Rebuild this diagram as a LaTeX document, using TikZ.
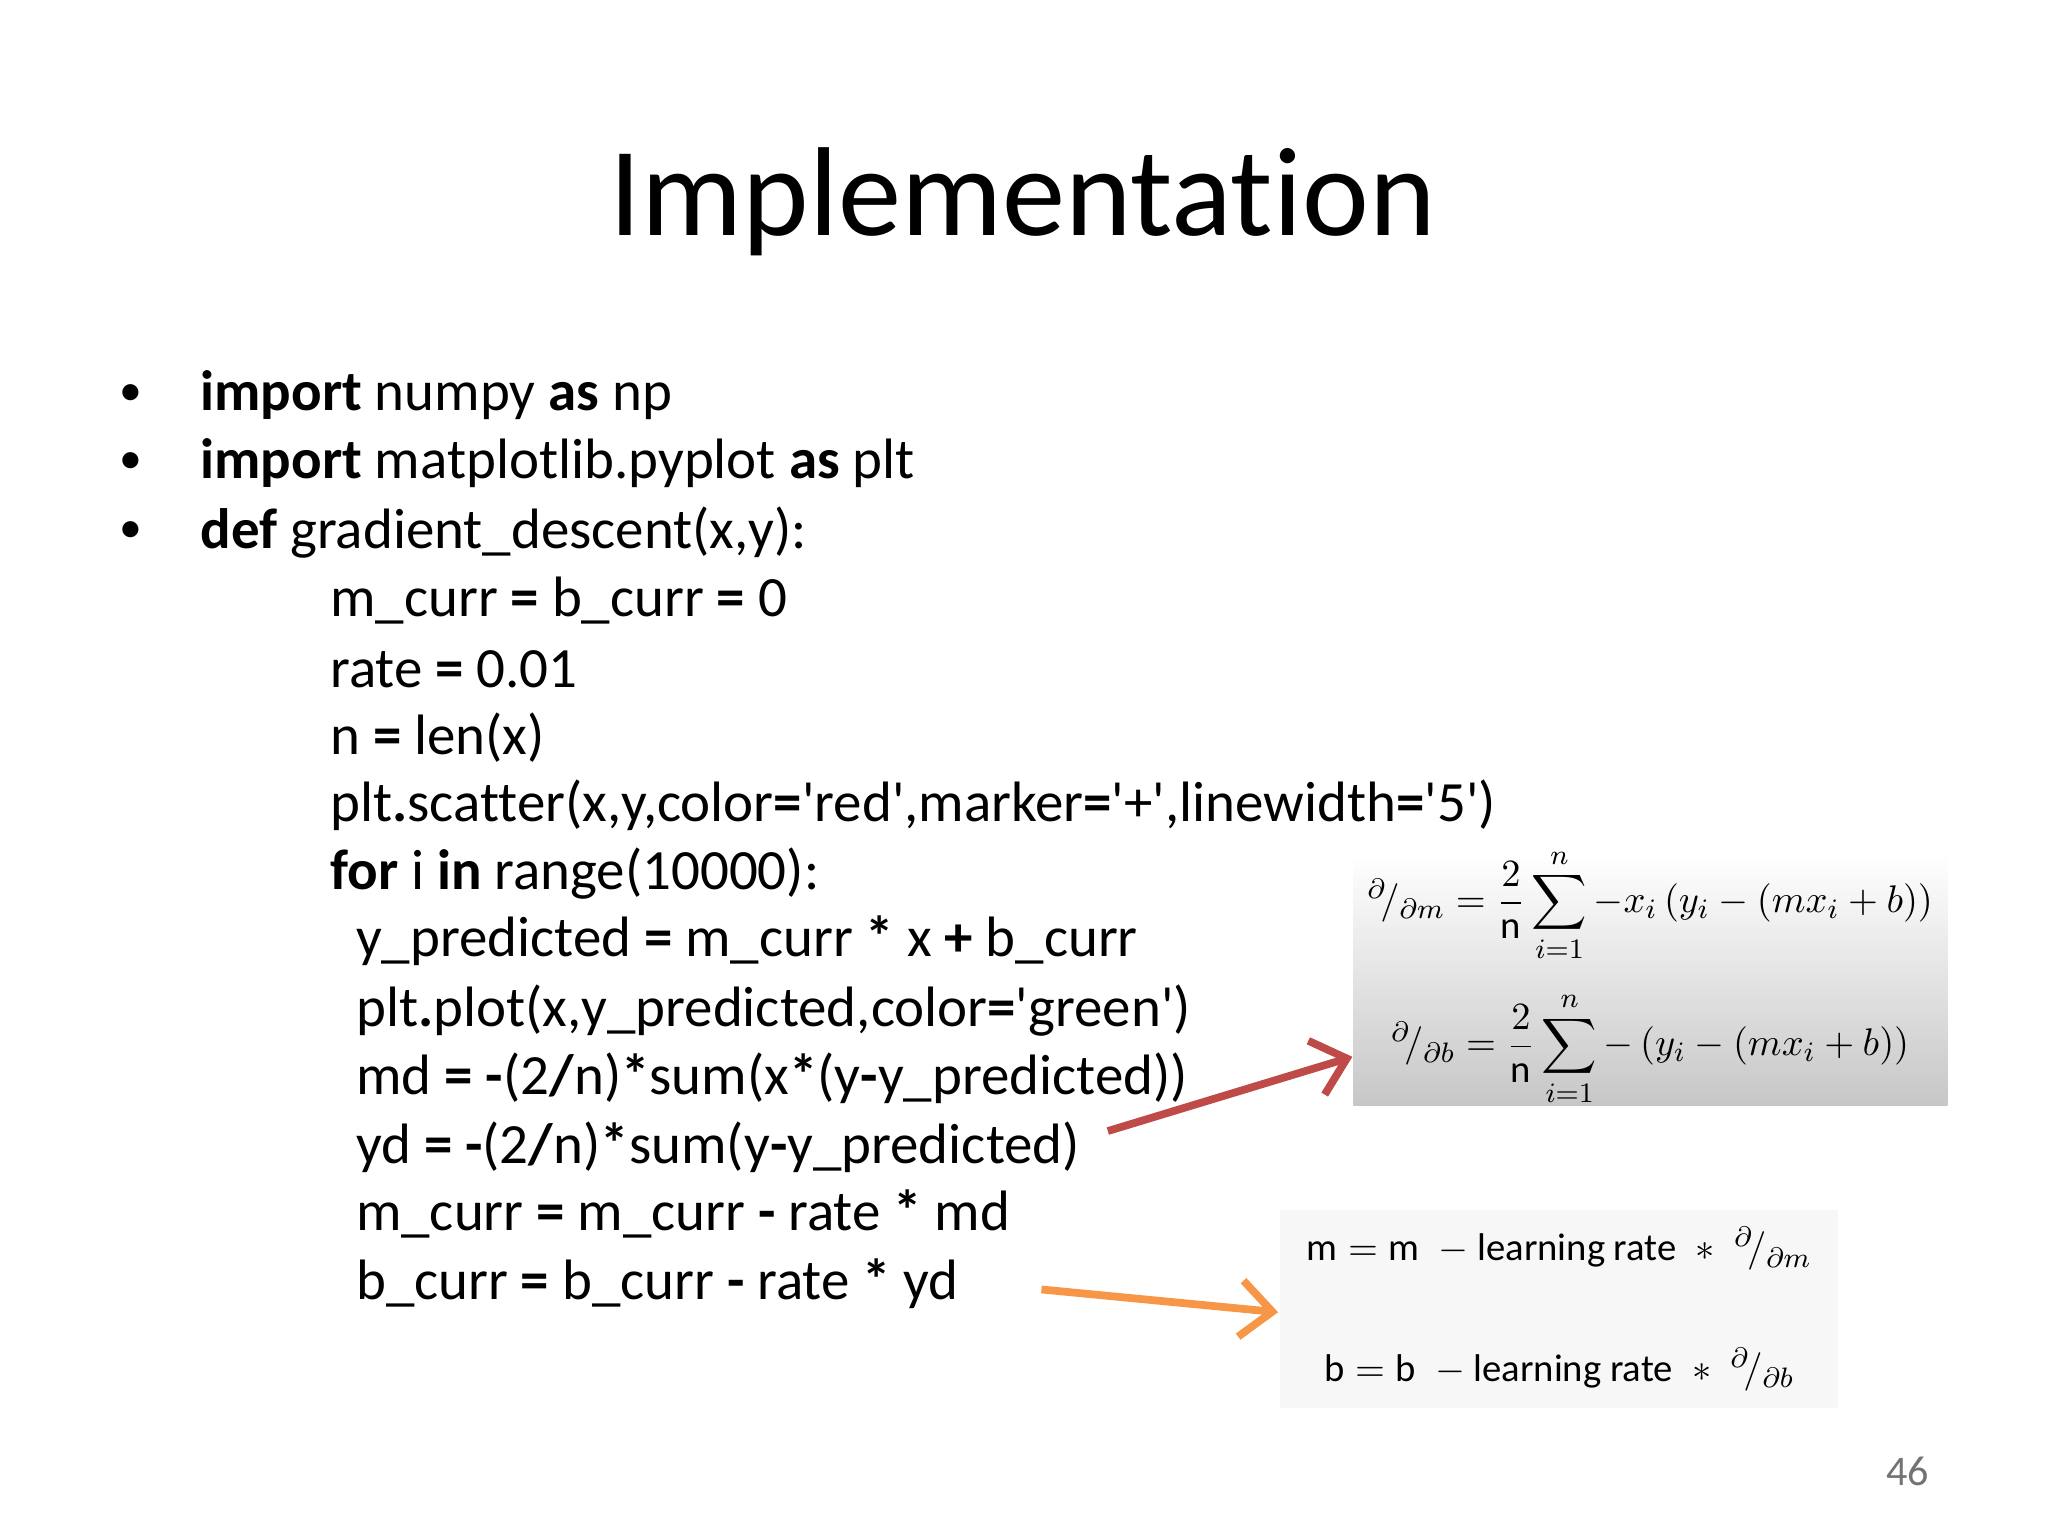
\documentclass[tikz,border=0pt]{standalone}
\usepackage{fontspec}
\setmainfont{Carlito}[Ligatures=NoCommon]
\usepackage{amsmath}
\usetikzlibrary{arrows.meta}
\newcommand{\qq}{\textquotesingle}
\begin{document}
\begin{tikzpicture}[x=1cm,y=1cm,
  code/.style={anchor=west,inner sep=0pt,font=\fontsize{16.2}{20}\selectfont},
  bul/.style={anchor=center,inner sep=0pt,font=\fontsize{13}{16}\selectfont},
  frm/.style={inner sep=0pt,font=\fontsize{11}{13}\selectfont},
  arr/.style={line width=2.2pt,-{Straight Barb[length=9pt,width=16pt]}}]
\useasboundingbox (0,0) rectangle (20.48,15.36);
\fill[white] (0,0) rectangle (20.48,15.36);
\begin{scope}[scale=0.99]
\node[inner sep=0pt,font=\fontsize{36}{44}\selectfont] (title) at (10.33,13.48) {Implementation};
\begin{scope}[yshift=0.12cm]
\foreach \y/\n in {3.96/b1,4.64/b2,5.34/b3}{\node[bul] (\n) at (1.32,15.36-\y) {•};}
\node[code] (l1) at (2.02,15.36-3.96) {\textbf{import} numpy \textbf{as} np};
\node[code] (l2) at (2.02,15.36-4.64) {\textbf{import} matplotlib.pyplot \textbf{as} plt};
\node[code] (l3) at (2.02,15.36-5.34) {\textbf{def} gradient\_descent(x,y):};
\node[code] (l4) at (3.33,15.36-6.03) {m\_curr \textbf{=} b\_curr \textbf{=} 0};
\node[code] (l5) at (3.33,15.36-6.73) {rate \textbf{=} 0.01};
\node[code] (l6) at (3.33,15.36-7.42) {n \textbf{=} len(x)};
\node[code] (l7) at (3.33,15.36-8.10) {plt\textbf{.}scatter(x,y,color\textbf{=}\qq red\qq,marker\textbf{=}\qq+\qq,linewidth\textbf{=}\qq5\qq)};
\node[code] (l8) at (3.33,15.36-8.79) {\textbf{for} i \textbf{in} range(10000):};
\node[code] (l9) at (3.59,15.36-9.47) {y\_predicted \textbf{=} m\_curr \textbf{*} x \textbf{+} b\_curr};
\node[code] (l10) at (3.59,15.36-10.17) {plt\textbf{.}plot(x,y\_predicted,color\textbf{=}\qq green\qq)};
\node[code] (l11) at (3.59,15.36-10.86) {md \textbf{=} \textbf{-}(2\textbf{/}n)\textbf{*}sum(x\textbf{*}(y\textbf{-}y\_predicted))};
\node[code] (l12) at (3.59,15.36-11.55) {yd \textbf{=} \textbf{-}(2\textbf{/}n)\textbf{*}sum(y\textbf{-}y\_predicted)};
\node[code] (l13) at (3.59,15.36-12.23) {m\_curr \textbf{=} m\_curr \textbf{-} rate \textbf{*} md};
\node[code] (l14) at (3.59,15.36-12.93) {b\_curr \textbf{=} b\_curr \textbf{-} rate \textbf{*} yd};
\end{scope}
\begin{scope}[yshift=0.18cm]
% formula box 1
\shade[top color=white,bottom color=black!22] (13.67,6.71) rectangle (19.67,4.17);
\node[frm] (f1) at (16.67,15.36-9.17) {$^{\partial}\!/_{\partial m}=\dfrac{2}{\mathrm{n}}\displaystyle\sum_{i=1}^{n}-x_i\,(y_i-(mx_i+b))$};
\node[frm] (f2) at (16.67,15.36-10.62) {$^{\partial}\!/_{\partial b}=\dfrac{2}{\mathrm{n}}\displaystyle\sum_{i=1}^{n}-\,(y_i-(mx_i+b))$};
\end{scope}
\begin{scope}[yshift=0.14cm]
% formula box 2
\fill[black!3] (12.93,3.15) rectangle (18.57,1.15);
\node[frm] (g1) at (15.75,15.36-12.60) {$\mathrm{m}=\mathrm{m}\;-\text{learning rate}\;*\;{}^{\partial}\!/_{\partial m}$};
\node[frm] (g2) at (15.75,15.36-13.82) {$\mathrm{b}=\mathrm{b}\;-\text{learning rate}\;*\;{}^{\partial}\!/_{\partial b}$};
\end{scope}
\begin{scope}[yshift=0.1cm]
\coordinate (r0) at (11.19,15.36-11.37);
\coordinate (r1) at (13.66,15.36-10.62);
\coordinate (o0) at (10.52,15.36-12.97);
\coordinate (o1) at (12.91,15.36-13.20);
\draw[arr,draw={rgb,255:red,190;green,75;blue,72}] (r0) -- (r1);
\draw[arr,draw={rgb,255:red,247;green,150;blue,70}] (o0) -- (o1);
\node[inner sep=0pt,font=\fontsize{12}{14}\selectfont,text=black!55] (pg) at (19.27,15.36-14.81) {46};
\end{scope}
\end{scope}
\end{tikzpicture}
\end{document}
